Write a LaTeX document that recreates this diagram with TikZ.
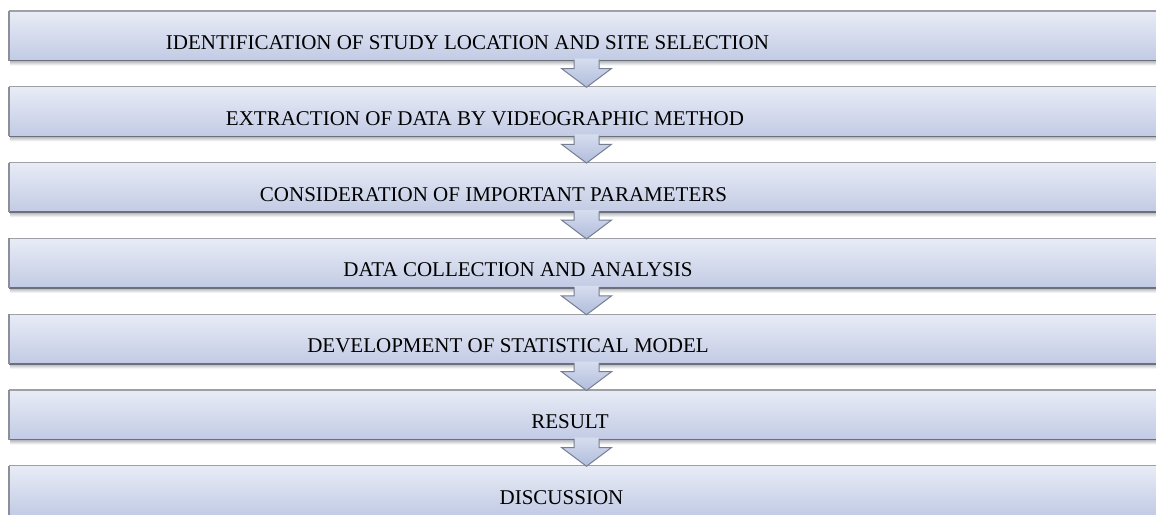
\documentclass[tikz,border=0pt]{standalone}
\usepackage{fontspec}
\setmainfont{Liberation Serif}
\usetikzlibrary{calc}
\definecolor{boxtop}{RGB}{232,236,246}
\definecolor{boxbot}{RGB}{194,203,229}
\definecolor{edgetop}{RGB}{158,160,166}
\definecolor{edgebot}{RGB}{108,112,122}
\definecolor{edgeleft}{RGB}{140,143,152}
\definecolor{shadowc}{RGB}{175,177,182}
\definecolor{arrtop}{RGB}{214,221,238}
\definecolor{arrbot}{RGB}{176,188,220}
\definecolor{arredge}{RGB}{118,126,146}
\begin{document}
\begin{tikzpicture}[x=1pt,y=-1pt,
  stepbox/.style={rectangle, anchor=north west, inner sep=0pt, outer sep=0pt,
    minimum width=1170pt, minimum height=49.5pt, top color=boxtop, bottom color=boxbot, draw=none},
  steptext/.style={anchor=base, inner sep=0pt, font=\fontsize{21}{21}\selectfont, text=black},
  topedge/.style={draw=edgetop, line width=1.3pt},
  botedge/.style={draw=edgebot, line width=1.6pt},
  leftedge/.style={draw=edgeleft, line width=1.2pt},
  flowarrow/.style={top color=arrtop, bottom color=arrbot},
  flowedge/.style={draw=arredge, line width=1pt, line join=miter}
]
\clip (0,0) rectangle (1156,514);
\fill[white] (0,0) rectangle (1156,514);

% boxes
\foreach \i/\y in {1/11,2/86.8,3/162.6,4/238.4,5/314.2,6/390,7/465.8}{
  \node[stepbox] (b\i) at (9,\y) {};
  \shade[top color=shadowc, bottom color=white] ($(b\i.south west)+(1,0)$) rectangle ($(b\i.south east)+(0,5)$);
  \draw[topedge] (b\i.north west) -- (b\i.north east);
  \draw[botedge] (b\i.south west) -- (b\i.south east);
  \draw[leftedge] (b\i.north west) -- (b\i.south west);
}

% connectors
\foreach \i/\j in {1/2,2/3,3/4,4/5,5/6,6/7}{
  \coordinate (s\i) at ($(b\i.south west)+(577.5,0)$);
  \coordinate (t\i) at ($(b\j.north west)+(577.5,0.5)$);
  \shade[flowarrow] ($(s\i)+(-12.5,-2)$) -- ($(s\i)+(-12.5,8)$) -- ($(s\i)+(-25,8)$) -- (t\i)
    -- ($(s\i)+(25,8)$) -- ($(s\i)+(12.5,8)$) -- ($(s\i)+(12.5,-2)$) -- cycle;
  \draw[flowedge] ($(s\i)+(-12.5,-0.8)$) -- ($(s\i)+(-12.5,8)$) -- ($(s\i)+(-25,8)$) -- (t\i)
    -- ($(s\i)+(25,8)$) -- ($(s\i)+(12.5,8)$) -- ($(s\i)+(12.5,-0.8)$);
}

% texts
\node[steptext] (x1) at (467.5,49.5) {IDENTIFICATION OF STUDY LOCATION AND SITE SELECTION};
\node[steptext] (x2) at (485,125.3) {EXTRACTION OF DATA BY VIDEOGRAPHIC METHOD};
\node[steptext] (x3) at (493.5,201.1) {CONSIDERATION OF IMPORTANT PARAMETERS};
\node[steptext] (x4) at (518,276.9) {DATA COLLECTION AND ANALYSIS};
\node[steptext] (x5) at (508,352.7) {DEVELOPMENT OF STATISTICAL MODEL};
\node[steptext] (x6) at (570,428.5) {RESULT};
\node[steptext] (x7) at (561.5,504.3) {DISCUSSION};
\end{tikzpicture}
\end{document}
